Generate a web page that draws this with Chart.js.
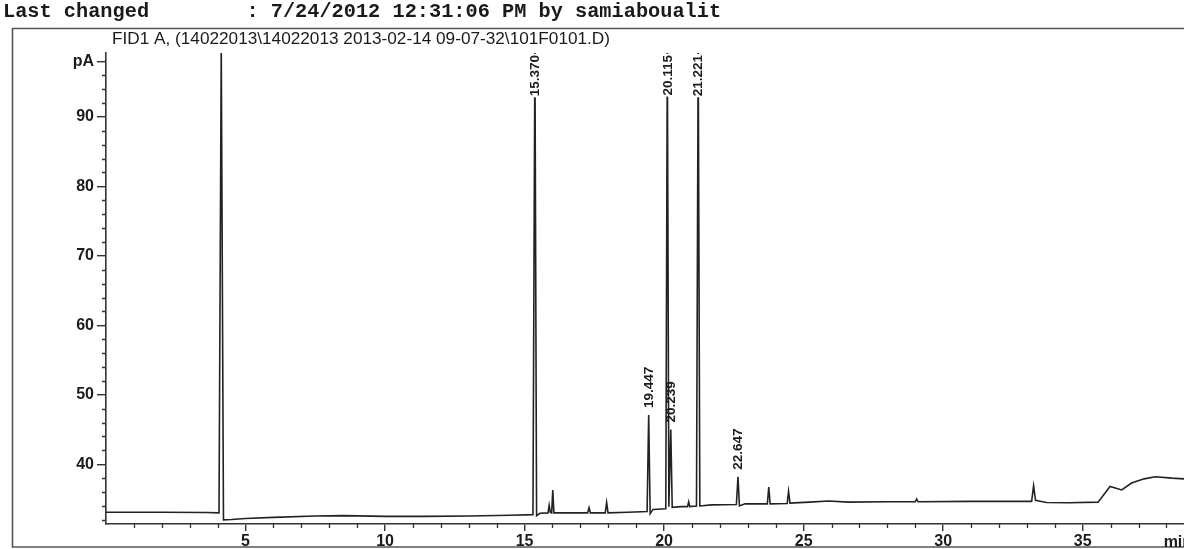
<!DOCTYPE html>
<html>
<head>
<meta charset="utf-8">
<script src="https://cdn.jsdelivr.net/npm/chart.js@4.4.1/dist/chart.umd.min.js"></script>
<style>
  html, body { margin: 0; padding: 0; background: #fff; }
  #wrap { width: 1184px; height: 549px; position: relative; }
</style>
</head>
<body>
<div id="wrap"><canvas id="c"></canvas></div>
<script>
// FID1 A trace: retention time (min) and detector signal (pA)
const traceTime = [
  0.00, 2.00, 3.60, 4.05, 4.13, 4.21, 4.50, 5.00, 6.00, 7.50,
  8.50, 10.00, 11.50, 13.00, 14.50, 15.30, 15.37, 15.43, 15.55, 15.84,
  15.88, 15.92, 15.97, 16.01, 16.05, 16.60, 17.26, 17.31, 17.36, 17.89,
  17.94, 17.99, 18.70, 19.39, 19.447, 19.50, 19.60, 20.06, 20.115, 20.17,
  20.239, 20.29, 20.60, 20.84, 20.88, 20.92, 21.16, 21.221, 21.28, 21.70,
  22.59, 22.647, 22.70, 22.90, 23.70, 23.75, 23.80, 24.41, 24.46, 24.51,
  25.20, 25.90, 26.60, 28.00, 29.00, 29.05, 29.10, 31.00, 33.17, 33.24,
  33.31, 33.70, 34.50, 35.55, 35.98, 36.40, 36.75, 37.20, 37.60, 38.20,
  38.63
];
const traceSignal = [
  33.1, 33.1, 33.05, 33.0, 100, 32.0, 32.05, 32.2, 32.35, 32.55,
  32.6, 32.5, 32.5, 32.55, 32.65, 32.75, 100, 32.6, 32.95, 33.0,
  34.1, 33.1, 33.0, 36.3, 33.0, 33.0, 33.0, 33.75, 33.0, 33.0,
  34.5, 33.0, 33.1, 33.2, 47.1, 32.9, 33.5, 33.6, 100, 33.9,
  45.0, 33.8, 33.9, 33.9, 34.6, 33.9, 34.0, 100, 34.0, 34.15,
  34.2, 38.2, 34.0, 34.3, 34.3, 36.7, 34.3, 34.35, 36.1, 34.4,
  34.55, 34.7, 34.55, 34.6, 34.6, 35.0, 34.6, 34.65, 34.65, 36.9,
  34.8, 34.5, 34.45, 34.55, 36.8, 36.3, 37.3, 37.9, 38.2, 38.0,
  37.9
];

// integrated peaks annotated with their retention times
const peakTimes = [15.370, 19.447, 20.115, 20.239, 21.221, 22.647];

// axis ticks
const xTickValues = [5, 10, 15, 20, 25, 30, 35];
const yTickValues = [40, 50, 60, 70, 80, 90];
const yUnitTick = 98;
const xRange = [0, 38.63];
const yRange = [31.4, 99.2];

const headerLine = 'Last changed        : 7/24/2012 12:31:06 PM by samiaboualit';
const signalTitle = 'FID1 A, (14022013\\14022013 2013-02-14 09-07-32\\101F0101.D)';

const ink = '#1c1c1c';
const tickFont = { family: 'Liberation Sans', size: 16, weight: 'bold' };

// page frame, report header and signal title
const reportFrame = {
  id: 'reportFrame',
  beforeDraw(chart) {
    const ctx = chart.ctx, W = chart.width, H = chart.height;
    ctx.save();
    ctx.fillStyle = '#fff';
    ctx.fillRect(0, 0, W, H);
    ctx.strokeStyle = '#555';
    ctx.lineWidth = 1.6;
    ctx.beginPath();
    ctx.moveTo(W, 28.5); ctx.lineTo(12.5, 28.5); ctx.lineTo(12.5, H - 2); ctx.lineTo(W, H - 2);
    ctx.stroke();

    ctx.fillStyle = '#1a1a1a';
    ctx.font = 'bold 20.3px "Liberation Mono"';
    ctx.textBaseline = 'alphabetic';
    ctx.textAlign = 'left';
    ctx.fillText(headerLine, 3, 17);

    ctx.font = '17px "Liberation Sans"';
    const w = ctx.measureText(signalTitle).width;
    ctx.translate(112, 44);
    ctx.scale(498 / w, 1);
    ctx.fillText(signalTitle, 0, 0);
    ctx.restore();
  }
};

// minor ticks on both axes, the time unit, and peak retention-time labels
const chromAnnotations = {
  id: 'chromAnnotations',
  afterDraw(chart) {
    const ctx = chart.ctx;
    const xs = chart.scales.x, ys = chart.scales.y;
    const area = chart.chartArea;
    ctx.save();
    ctx.strokeStyle = '#333';
    ctx.lineWidth = 1.3;
    ctx.beginPath();
    for (let t = 1; t <= Math.floor(xRange[1]); t++) {
      if (t % 5 === 0) continue;
      const px = Math.round(xs.getPixelForValue(t)) + 0.5;
      ctx.moveTo(px, area.bottom); ctx.lineTo(px, area.bottom + 4);
    }
    for (let v = 32; v <= 98; v += 2) {
      if (v % 10 === 0 || v === yUnitTick) continue;
      const py = Math.round(ys.getPixelForValue(v)) + 0.5;
      ctx.moveTo(area.left - 4, py); ctx.lineTo(area.left, py);
    }
    ctx.stroke();

    ctx.fillStyle = ink;
    ctx.font = 'bold 16px "Liberation Sans"';
    ctx.textAlign = 'left';
    ctx.textBaseline = 'top';
    ctx.fillText('min', xs.getPixelForValue(37.9), area.bottom + 11);

    ctx.font = 'bold 13.5px "Liberation Sans"';
    ctx.textBaseline = 'middle';
    peakTimes.forEach(t => {
      const i = traceTime.indexOf(t);
      const apex = traceSignal[i];
      const label = t.toFixed(3);
      const tw = ctx.measureText(label).width;
      const px = xs.getPixelForValue(t);
      const offScale = apex >= yRange[1];
      const base = offScale ? area.top + 2 + tw : ys.getPixelForValue(apex) - 7;
      ctx.save();
      ctx.translate(px, base);
      ctx.rotate(-Math.PI / 2);
      if (offScale) {
        ctx.fillStyle = '#fff';
        ctx.fillRect(-1, -6, tw + 2, 12);
      }
      ctx.fillStyle = ink;
      ctx.textAlign = 'left';
      ctx.fillText(label, 0, 0.5);
      ctx.restore();
    });
    ctx.restore();
  }
};

new Chart(document.getElementById('c'), {
  type: 'line',
  data: {
    datasets: [{
      data: traceTime.map((t, i) => ({ x: t, y: traceSignal[i] })),
      borderColor: '#222',
      borderWidth: 1.6,
      pointRadius: 0,
      tension: 0,
      fill: false
    }]
  },
  options: {
    responsive: true,
    maintainAspectRatio: false,
    animation: false,
    devicePixelRatio: 1,
    layout: { padding: { top: 53, left: 0, right: 0, bottom: 0 } },
    plugins: { legend: { display: false }, tooltip: { enabled: false }, title: { display: false } },
    scales: {
      x: {
        type: 'linear',
        min: xRange[0],
        max: xRange[1],
        afterBuildTicks: s => { s.ticks = xTickValues.map(v => ({ value: v })); },
        afterFit: s => { s.height = 25; },
        grid: { drawOnChartArea: false, tickLength: 7, color: '#333', lineWidth: 1.4 },
        border: { color: '#333', width: 1.6 },
        ticks: { color: ink, padding: 1, maxRotation: 0, autoSkip: false, font: tickFont }
      },
      y: {
        type: 'linear',
        min: yRange[0],
        max: yRange[1],
        afterBuildTicks: s => { s.ticks = [...yTickValues, yUnitTick].map(v => ({ value: v })); },
        afterFit: s => { s.width = 106; },
        grid: { drawOnChartArea: false, tickLength: 9, color: '#333', lineWidth: 1.4 },
        border: { color: '#333', width: 1.6 },
        ticks: { color: ink, padding: 3, autoSkip: false,
                 callback: v => (v === yUnitTick ? 'pA' : v), font: tickFont }
      }
    }
  },
  plugins: [reportFrame, chromAnnotations]
});
</script>
</body>
</html>
